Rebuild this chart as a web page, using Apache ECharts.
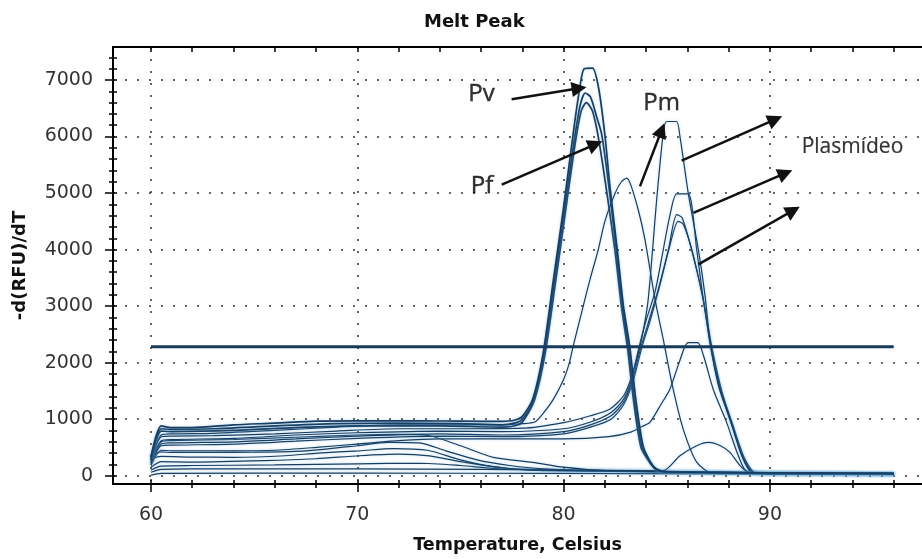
<!DOCTYPE html>
<html>
<head>
<meta charset="utf-8">
<title>Melt Peak</title>
<script src="https://cdn.jsdelivr.net/npm/echarts@6/dist/echarts.min.js"></script>
<style>
html, body { margin: 0; padding: 0; background: #fff; }
#chart { width: 922px; height: 559px; }
</style>
</head>
<body>
<div id="chart"></div>
<script>
// tick positions
const xMinorTicks = [60, 62, 64, 66, 68, 70, 72, 74, 76, 78, 80, 82, 84, 86, 88, 90, 92, 94, 96]
const xLabelValues = [60, 70, 80, 90]
const yLabelValues = [0, 1000, 2000, 3000, 4000, 5000, 6000, 7000]
const yMinorTicks = []
for (let v = 0; v <= 7400; v += 200) yMinorTicks.push(v)

// melt curves, [temperature, -d(RFU)/dT]
const pv1 = [[60,330],[60.5,880],[61,850],[62,850],[64,900],[66,930],[68,965],[70,970],[73,970],[75,965],[77,960],[77.6,980],[78,1050],[78.5,1350],[79,2150],[79.5,3450],[80,4750],[80.5,6150],[80.8,6900],[81,7200],[81.4,7210],[81.7,6850],[82,6030],[82.25,5100],[82.6,4000],[82.9,3000],[83.2,2300],[83.5,1350],[83.85,530],[84.2,250],[84.5,120],[85,70],[90,50],[96,40]]
const pv2 = [[60,300],[60.5,830],[61,820],[63,830],[66,880],[69,920],[72,930],[75,920],[77,900],[77.7,940],[78,1000],[78.5,1300],[79,2050],[79.5,3300],[80,4600],[80.5,5900],[80.8,6550],[81.05,6770],[81.3,6700],[81.6,6350],[81.85,6030],[82.2,5100],[82.55,4000],[82.85,3000],[83.15,2250],[83.45,1300],[83.8,520],[84.2,230],[84.5,110],[85,70],[96,40]]
const pv3 = [[60,280],[60.5,790],[61,780],[64,800],[67,850],[70,880],[74,880],[77,860],[77.8,900],[78.1,1000],[78.6,1350],[79.1,2150],[79.6,3400],[80.1,4700],[80.55,5850],[80.85,6450],[81.1,6600],[81.4,6450],[81.7,5950],[82.1,5000],[82.5,3950],[82.8,3000],[83.1,2250],[83.4,1300],[83.75,500],[84.2,220],[84.5,100],[85,60],[96,40]]
const pf = [[60,250],[60.5,720],[61,740],[63,750],[66,800],[69,860],[72,900],[75,900],[77,900],[78,920],[78.6,950],[79,1100],[79.5,1350],[80,1700],[80.28,2000],[80.47,2300],[80.95,3000],[81.3,3500],[81.68,4000],[82,4500],[82.5,5000],[82.8,5200],[83.06,5266],[83.25,5150],[83.62,4700],[83.94,4180],[84.43,3120],[84.83,2410],[85.31,1530],[85.8,820],[86.45,240],[87.25,40],[96,30]]
const pm = [[60,230],[60.5,690],[61,700],[63,710],[66,740],[69,790],[72,830],[75,830],[78,840],[80,940],[81.3,1060],[82.25,1180],[82.9,1410],[83.2,1650],[83.5,2000],[83.8,2450],[84.1,3120],[84.51,4880],[84.83,6060],[85,6266],[85.47,6266],[85.64,6000],[86.04,5000],[86.53,4000],[86.85,3200],[87.09,2400],[87.5,1600],[88.06,1000],[88.63,353],[89.11,60],[90,30],[96,25]]
const pl1 = [[60,220],[60.5,620],[61,640],[64,660],[67,720],[70,760],[74,790],[77,780],[80,830],[81.3,950],[82.3,1120],[82.9,1350],[83.21,1600],[83.66,2280],[84,2750],[84.43,3250],[84.83,4000],[85.15,4600],[85.48,4985],[86.04,4985],[86.45,4000],[86.77,3120],[87.15,2280],[87.6,1550],[88.1,980],[88.65,360],[89.15,60],[90,30],[96,25]]
const pl2 = [[60,200],[60.5,560],[61,580],[64,600],[67,650],[70,700],[74,740],[77,720],[80,780],[81.3,900],[82.3,1060],[82.9,1300],[83.3,1650],[83.75,2280],[84.1,2700],[84.59,3300],[85.08,4000],[85.48,4619],[85.75,4560],[86.2,4000],[86.77,3120],[87.12,2280],[87.6,1500],[88.1,950],[88.7,340],[89.2,60],[90,30],[96,25]]
const pl3 = [[60,190],[60.5,530],[61,540],[64,560],[67,610],[70,660],[74,700],[77,690],[80,740],[81.3,860],[82.3,1000],[82.9,1250],[83.35,1650],[83.8,2280],[84.2,2750],[84.65,3350],[85.1,4000],[85.55,4500],[85.8,4450],[86.25,3950],[86.8,3050],[87.2,2250],[87.7,1450],[88.2,900],[88.75,320],[89.25,60],[90,30],[96,25]]
const s1 = [[60,180],[60.5,450],[61,440],[64,440],[66,450],[68,500],[70,560],[72,620],[74,650],[76,650],[78,650],[80,650],[82.2,690],[83.21,766],[83.8,870],[84.18,943],[84.7,1250],[85.15,1530],[85.6,2000],[86.03,2355],[86.5,2355],[86.8,2100],[87.25,1530],[87.9,943],[88.47,353],[88.95,60],[96,25]]
const s2 = [[60,60],[60.5,110],[62,120],[70,120],[76,110],[80,100],[84,90],[84.83,88],[85.64,353],[86.45,530],[87.02,589],[87.6,530],[88.06,413],[88.55,177],[88.87,80],[89.5,40],[96,25]]
const d1 = [[60,270],[60.5,600],[61,620],[64,640],[67,680],[70,720],[72,730],[73.5,707],[75,530],[76.6,325],[78.5,236],[80,150],[82,90],[96,30]]
const b1 = [[60,350],[60.5,420],[61,410],[63,410],[65,415],[67,430],[68.5,470],[70,530],[71.5,590],[73,580],[74.3,440],[75.8,280],[77.4,180],[79,120],[82,80],[96,30]]
const b2 = [[60,300],[60.5,340],[62,330],[64,325],[66.5,353],[68.1,400],[70.1,440],[71.75,480],[73.4,450],[75,280],[76.6,160],[78.5,100],[96,30]]
const b3 = [[60,150],[60.5,250],[62,240],[65.5,265],[68,300],[70.1,353],[72,380],[73.5,350],[75,250],[77,140],[79,90],[96,30]]
const b4 = [[60,100],[60.5,170],[62,180],[66,190],[70,210],[73,220],[75,180],[77,120],[96,30]]
const f1 = [[60,10],[60.5,40],[70,45],[80,40],[96,20]]

const threshold = 2280
const thresholdSpan = [60, 96]

// annotations
const noteText = ['Pv', 'Pm', 'Pf', 'Plasmídeo']
const noteX = [76.02, 84.75, 76.05, 94.0]
const noteY = [6753, 6597, 5115, 5816]
const arrowFrom = [[77.48, 6661], [77.0, 5149], [83.7, 5119], [85.72, 5572], [86.29, 4649], [86.53, 3737]]
const arrowTo = [[80.75, 6853], [81.54, 5863], [84.75, 6110], [90.26, 6305], [90.75, 5351], [91.13, 4693]]

const X_MIN = 58.16, X_MAX = 97.37
const Y_MIN = -147, Y_MAX = 7584

const curves = [f1, b4, b3, b2, b1, s2, d1, s1, pl3, pl2, pl1, pm, pf, pv3, pv2, pv1]
const thick = [pv1, pv2, pv3]

const black = { color: '#000', width: 2 }
const tickLine = { color: '#000', width: 1.5 }
const dotted = { type: [2, 10], color: '#333', width: 1.5 }
const tickFont = { fontFamily: 'DejaVu Sans', fontSize: 19, color: '#333' }
const nameFont = { fontFamily: 'DejaVu Sans', fontWeight: 'bold', color: '#111' }

function xAx(extra) {
  return Object.assign({
    type: 'value', min: X_MIN, max: X_MAX,
    axisLine: { show: false, onZero: false },
    axisTick: { show: false },
    axisLabel: { show: false },
    splitLine: { show: false }
  }, extra)
}
function yAx(extra) {
  return Object.assign({
    type: 'value', min: Y_MIN, max: Y_MAX,
    axisLine: { show: false, onZero: false },
    axisTick: { show: false },
    axisLabel: { show: false },
    splitLine: { show: false }
  }, extra)
}

const chart = echarts.init(document.getElementById('chart'))

const series = curves.map(pts => ({
  type: 'line',
  data: pts,
  showSymbol: false,
  smooth: 0.25,
  silent: true,
  z: 3,
  lineStyle: {
    color: '#163d62',
    width: thick.includes(pts) ? 1.7 : 1.2,
    shadowColor: 'rgba(100,170,220,0.45)',
    shadowBlur: 3
  }
}))

series.push({
  type: 'line',
  data: thresholdSpan.map(t => [t, threshold]),
  showSymbol: false,
  silent: true,
  z: 4,
  lineStyle: { color: '#173b5c', width: 3 },
  markLine: {
    silent: true,
    animation: false,
    symbol: ['none', 'triangle'],
    symbolSize: 15,
    label: { show: false },
    lineStyle: { color: '#111', width: 2.5, type: 'solid' },
    emphasis: { disabled: true },
    data: arrowFrom.map((p, i) => [{ coord: p }, { coord: arrowTo[i] }])
  }
})

series.push({
  type: 'scatter',
  symbolSize: 1,
  silent: true,
  z: 10,
  itemStyle: { color: 'rgba(0,0,0,0)' },
  label: {
    show: true, position: 'inside', formatter: '{b}',
    fontFamily: 'Open Sans', fontSize: 24, color: '#000',
    textBorderColor: '#000', textBorderWidth: 0.4
  },
  data: noteText.map((t, i) => ({
    name: t,
    value: [noteX[i], noteY[i]],
    label: i === 3 ? { fontSize: 21, textBorderWidth: 0.2 } : {}
  }))
})

chart.setOption({
  animation: false,
  backgroundColor: '#fff',
  title: {
    text: 'Melt Peak',
    left: 424, top: 13, padding: 0,
    textStyle: Object.assign({ fontSize: 18 }, nameFont)
  },
  grid: { left: 113, right: 0, top: 47, bottom: 74 },
  xAxis: [
    xAx({
      position: 'bottom',
      axisLine: { show: true, onZero: false, lineStyle: black },
      axisTick: { show: true, customValues: xMinorTicks, length: 4, lineStyle: tickLine },
      axisLabel: Object.assign({ show: true, customValues: xLabelValues, margin: 22 }, tickFont),
      name: 'Temperature, Celsius',
      nameLocation: 'middle',
      nameGap: 52,
      nameTextStyle: Object.assign({ fontSize: 17.5 }, nameFont)
    }),
    xAx({
      position: 'bottom',
      axisTick: { show: true, inside: true, customValues: xMinorTicks, length: 4, lineStyle: tickLine }
    }),
    xAx({
      position: 'top',
      axisLine: { show: true, onZero: false, lineStyle: black },
      axisTick: { show: true, inside: true, customValues: xMinorTicks, length: 5, lineStyle: tickLine }
    }),
    xAx({
      position: 'bottom',
      axisTick: { show: true, customValues: xLabelValues, length: 8, lineStyle: tickLine },
      splitLine: { show: true, lineStyle: dotted }
    })
  ],
  yAxis: [
    yAx({
      position: 'left',
      axisLine: { show: true, onZero: false, lineStyle: black },
      axisTick: { show: true, customValues: yMinorTicks, length: 4, lineStyle: tickLine },
      axisLabel: Object.assign({ show: true, customValues: yLabelValues, margin: 20, formatter: v => String(v) }, tickFont),
      name: '-d(RFU)/dT',
      nameLocation: 'middle',
      nameGap: 84,
      nameTextStyle: Object.assign({ fontSize: 18 }, nameFont)
    }),
    yAx({
      position: 'left',
      axisTick: { show: true, inside: true, customValues: yMinorTicks, length: 4, lineStyle: tickLine }
    }),
    yAx({
      position: 'left',
      axisTick: { show: true, customValues: yLabelValues, length: 8, lineStyle: tickLine },
      splitLine: { show: true, lineStyle: dotted }
    })
  ],
  series: series
})
</script>
</body>
</html>
